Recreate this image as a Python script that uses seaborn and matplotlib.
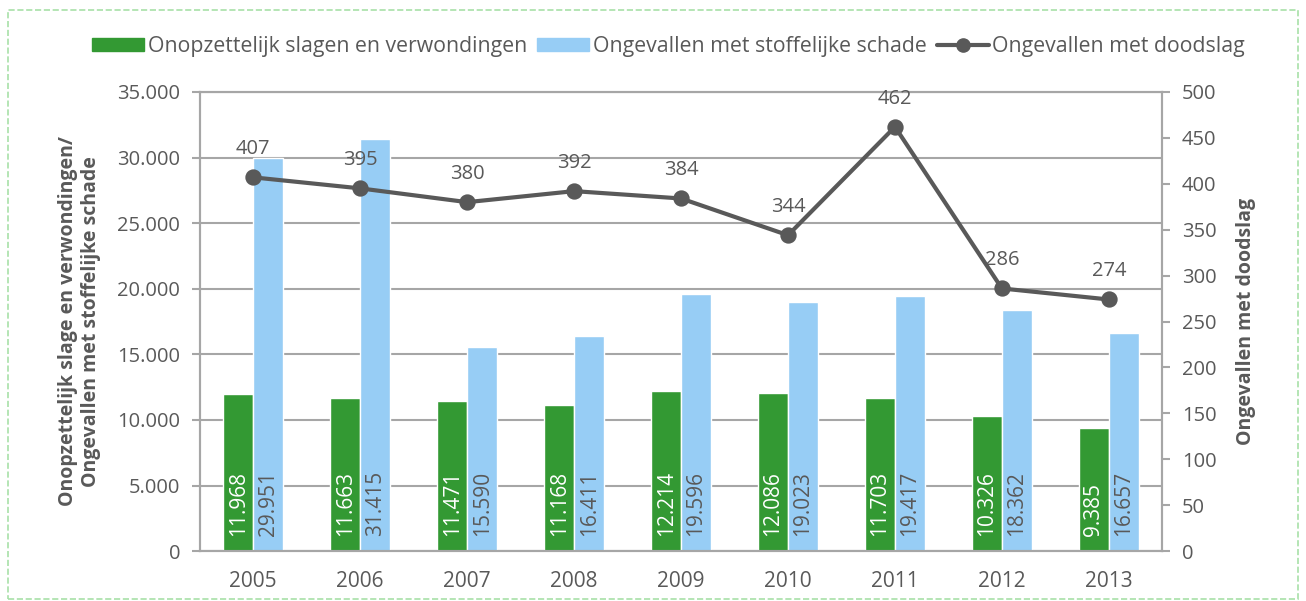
import pandas as pd
import numpy as np
import matplotlib.pyplot as plt
import seaborn as sns
from matplotlib.lines import Line2D
from matplotlib.patches import Rectangle

years = ['2005', '2006', '2007', '2008', '2009', '2010', '2011', '2012', '2013']
slagen = [11968, 11663, 11471, 11168, 12214, 12086, 11703, 10326, 9385]
schade = [29951, 31415, 15590, 16411, 19596, 19023, 19417, 18362, 16657]
doodslag = [407, 395, 380, 392, 384, 344, 462, 286, 274]

lbl_slagen = 'Onopzettelijk slagen en verwondingen'
lbl_schade = 'Ongevallen met stoffelijke schade'
lbl_dood = 'Ongevallen met doodslag'

GREEN = '#339933'
BLUE = '#97CDF5'
GREY = '#595959'
GRID = '#A6A6A6'

sns.set_style('white')
plt.rcParams['font.family'] = ['Open Sans', 'DejaVu Sans']
plt.rcParams['text.color'] = GREY


def nl(v):
    return f'{v:,}'.replace(',', '.')


df = pd.DataFrame({
    'jaar': years * 2,
    'waarde': slagen + schade,
    'reeks': [lbl_slagen] * len(years) + [lbl_schade] * len(years),
})

fig = plt.figure(figsize=(13.06, 6.01), dpi=100)
ax = fig.add_axes([0.153, 0.083, 0.737, 0.764])

sns.barplot(data=df, x='jaar', y='waarde', hue='reeks', palette=[GREEN, BLUE],
            width=0.56, ax=ax, legend=False, saturation=1)
ax.set_ylim(0, 35000)
ax.set_yticks(np.arange(0, 35001, 5000))
ax.set_yticklabels([nl(v) for v in range(0, 35001, 5000)])
ax.yaxis.grid(True, color=GRID, linewidth=1.5)
ax.set_axisbelow(True)

# labels inside bars
for cont, col in zip(ax.containers, ['white', GREY]):
    for p, v in zip(cont.patches, cont.datavalues):
        ax.annotate(nl(int(v)), xy=(p.get_x() + p.get_width() / 2, 0),
                    xytext=(0, 11), textcoords='offset points',
                    rotation=90, ha='center', va='bottom', fontsize=15, color=col)

ax2 = ax.twinx()
sns.pointplot(x=years, y=doodslag, ax=ax2, color=GREY, markers='o',
              linewidth=3, markersize=9.5)
ax2.set_ylim(0, 500)
ax2.set_yticks(np.arange(0, 501, 50))
for i, v in enumerate(doodslag):
    ax2.annotate(str(v), xy=(i, v), xytext=(0, 13), textcoords='offset points',
                 ha='center', va='bottom', fontsize=14.5, color=GREY)

ax.set_xlim(-0.5, len(years) - 0.5)
ax.set_xticks(np.arange(-0.5, len(years), 1), minor=True)
ax.tick_params(axis='x', which='major', length=0, pad=14, labelsize=15, labelcolor=GREY)
ax.tick_params(axis='x', which='minor', length=7, width=1.5, color=GRID)
ax.tick_params(axis='y', length=6, width=1.5, color=GRID, labelsize=14.5, labelcolor=GREY, pad=8)
ax2.tick_params(axis='y', length=6, width=1.5, color=GRID, labelsize=14.5, labelcolor=GREY, pad=8)

for a in (ax, ax2):
    for s in a.spines.values():
        s.set_color(GRID)
        s.set_linewidth(1.5)

ax.set_xlabel('')
ax.set_ylabel('Onopzettelijk slage en verwondingen/\nOngevallen met stoffelijke schade',
              fontsize=14, fontweight='bold', color=GREY, labelpad=12)
ax2.set_ylabel(lbl_dood, fontsize=14, fontweight='bold', color=GREY, labelpad=14)

handles = [
    Rectangle((0, 0), 1, 1, color=GREEN),
    Rectangle((0, 0), 1, 1, color=BLUE),
    Line2D([], [], color=GREY, linewidth=3, marker='o', markersize=9.5),
]
fig.legend(handles, [lbl_slagen, lbl_schade, lbl_dood], loc='center',
           bbox_to_anchor=(0.512, 0.922), ncol=3, frameon=False, fontsize=15.3,
           handlelength=2.45, handleheight=0.55, columnspacing=0.5, handletextpad=0.15,
           labelcolor=GREY)

fig.patches.append(Rectangle((0.006, 0.003), 0.988, 0.98, transform=fig.transFigure,
                             fill=False, edgecolor='#A8E0A8', linestyle='--', linewidth=1.2))

fig.savefig('out.png', dpi=100)
